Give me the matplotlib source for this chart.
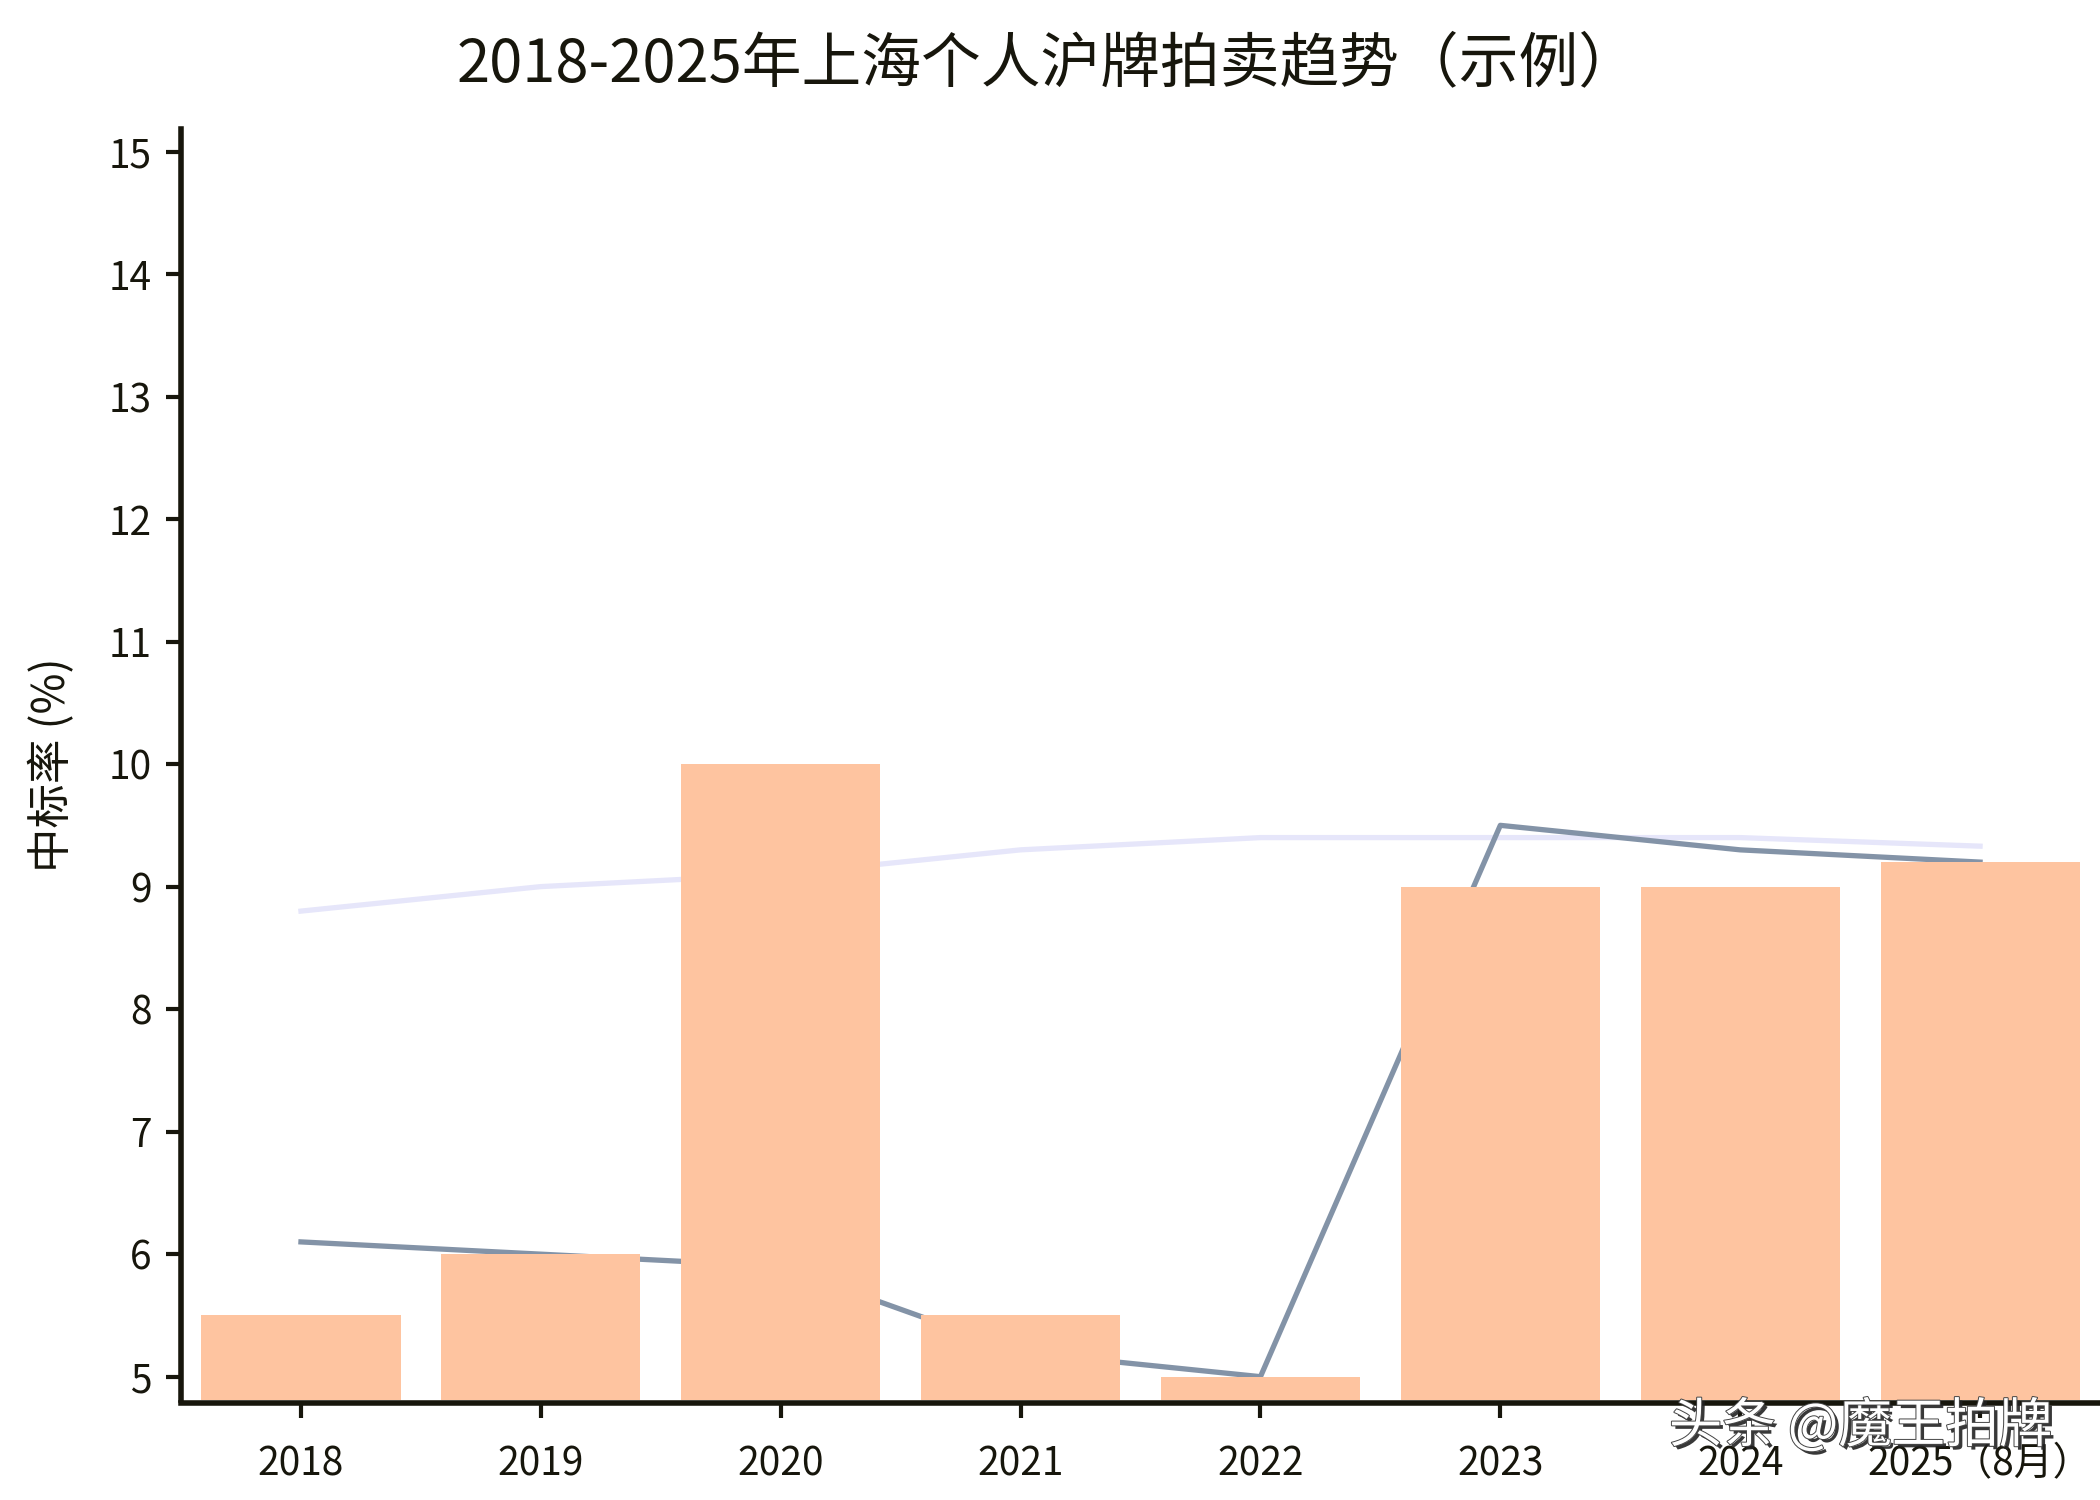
import matplotlib.pyplot as plt
import matplotlib.patheffects as pe
import numpy as np

plt.rcParams['font.family'] = ['Noto Sans CJK SC', 'DejaVu Sans']

# Data
years = ['2018', '2019', '2020', '2021', '2022', '2023', '2024', '2025（8月）']
bar_rate = [5.5, 6.0, 10.0, 5.5, 5.0, 9.0, 9.0, 9.2]
line_dark = [6.1, 6.0, 5.9, 5.2, 5.0, 9.5, 9.3, 9.2]
line_light = [8.8, 9.0, 9.1, 9.3, 9.4, 9.4, 9.4, 9.33]

ink = '#17160c'
x = np.arange(len(years))

fig = plt.figure(figsize=(21, 15), dpi=100)
ax = fig.add_axes([0.0862, 0.0667, 0.9138, 0.847])

ax.plot(x, line_light, color='#e6e6fa', lw=3.8, zorder=1)
ax.plot(x, line_dark, color='#8393a7', lw=3.8, zorder=2)
ax.bar(x, bar_rate, width=0.83, color='#fec4a0', zorder=3)

ax.set_xlim(-0.5, 7.5)
ax.set_ylim(4.81, 15.18)
ax.set_yticks(range(5, 16))
ax.set_xticks(x)
ax.set_xticklabels(years)

for side in ['top', 'right']:
    ax.spines[side].set_visible(False)
for side in ['left', 'bottom']:
    ax.spines[side].set_linewidth(4)
    ax.spines[side].set_color(ink)
ax.spines['bottom'].set_position(('outward', 2))

ax.tick_params(axis='both', direction='out', length=11, width=3,
               color=ink, labelcolor=ink, labelsize=28)
ax.tick_params(axis='x', pad=19)
ax.tick_params(axis='y', pad=10)

ax.set_ylabel('中标率 (%)', fontsize=32, color=ink, labelpad=24)

fig.text(0.499, 0.957, '2018-2025年上海个人沪牌拍卖趋势（示例）',
         ha='center', va='center', fontsize=43, color=ink)

# watermark
fig.text(0.886, 0.049, '头条 @魔王拍牌', ha='center', va='center',
         fontsize=38.5, color='white', zorder=10,
         path_effects=[pe.withSimplePatchShadow(offset=(2.5, -2.5), shadow_rgbFace='#222222', alpha=0.9),
                       pe.withStroke(linewidth=1.4, foreground='#444444')])

fig.savefig('out.png', dpi=100, facecolor='white')
